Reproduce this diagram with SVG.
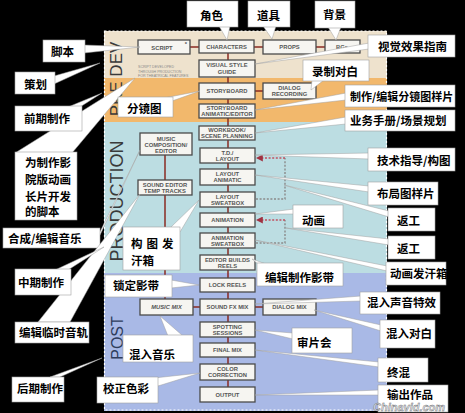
<svg xmlns="http://www.w3.org/2000/svg" width="465" height="413" viewBox="0 0 465 413">
<defs>
<style>
.cb{fill:#fff;stroke:#a0a0a0;stroke-width:0.6}
.ptr{fill:#fff;stroke:#a0a0a0;stroke-width:0.5}
.ct{font-family:"Noto Sans CJK SC","Noto Sans",sans-serif;font-weight:700;font-size:11.5px;fill:#000}
.bx{fill:#f6f5f1;stroke:#4a4a4a;stroke-width:1.3}
.bt{font-family:"Liberation Sans",Arial,sans-serif;font-weight:700;font-size:5.8px;fill:#555;text-anchor:middle}
.ln{stroke:#8a2a22;stroke-width:1.5;fill:none}
.dg{stroke:#8a8a8a;stroke-width:1.4;stroke-dasharray:2 1.6;fill:none}
.dr{stroke:#c05060;stroke-width:1.4;stroke-dasharray:2 1.6;fill:none}
.lab{font-family:"Liberation Sans",Arial,sans-serif;fill:#3a3a3a;text-anchor:middle}
</style>
<marker id="ah" viewBox="0 0 6 6" refX="5" refY="3" markerWidth="5" markerHeight="5" orient="auto">
<path d="M0,0 L6,3 L0,6 z" fill="#a03040"/>
</marker>
</defs>
<rect x="0" y="0" width="465" height="413" fill="#000"/>
<g id="panel">
<rect x="104" y="31" width="283" height="47" fill="#eee2cd"/>
<rect x="104" y="78" width="283" height="44" fill="#f2b86c"/>
<rect x="104" y="122" width="283" height="151" fill="#bcdde2"/>
<rect x="104" y="273" width="283" height="138" fill="#a9b9e6"/>
<rect x="104.5" y="31" width="282" height="379" fill="none" stroke="#fff" stroke-width="1.2" stroke-dasharray="2 2"/>
<text class="lab" font-size="17" transform="translate(122,79) rotate(-90)">PRE DEV</text>
<text class="lab" font-size="18" transform="translate(123,201) rotate(-90)">PRODUCTION</text>
<text class="lab" font-size="16" transform="translate(123,338) rotate(-90)" style="fill:#2f3d5c">POST</text>
<text font-family="Liberation Sans, Arial, sans-serif" font-size="3.6" fill="#888" x="138" y="68">SCRIPT DEVELOPED</text>
<text font-family="Liberation Sans, Arial, sans-serif" font-size="3.6" fill="#888" x="138" y="72.5">THROUGH PRODUCTION</text>
<text font-family="Liberation Sans, Arial, sans-serif" font-size="3.6" fill="#888" x="138" y="77">FOR THEATRICAL FEATURES</text>
</g>
<g id="connectors">
<path class="ln" d="M190,47 H325"/>
<path class="ln" d="M228,53 V387"/>
<path class="ln" d="M255,91 H263"/>
<path class="ln" d="M165,155 V299"/>
<path class="ln" d="M193,307 H263"/>
<path class="dg" d="M256,199 H285 V158"/>
<path class="dr" d="M285,158 H257" marker-end="url(#ah)"/>
<path class="dg" d="M256,243 H285 V220"/>
<path class="dr" d="M285,220 H257" marker-end="url(#ah)"/>
</g>
<g id="n-script"><rect class="bx" x="138" y="40" width="52" height="14"/><text class="bt" x="162" y="49.5">SCRIPT</text><text class="bt" x="186" y="46" font-size="5">*</text></g>
<g id="n-characters"><rect class="bx" x="199" y="40" width="55" height="13"/><text class="bt" x="226.5" y="48.8">CHARACTERS</text></g>
<g id="n-props"><rect class="bx" x="263" y="40" width="53" height="14"/><text class="bt" x="289.5" y="49.3">PROPS</text></g>
<g id="n-bgs"><rect class="bx" x="325" y="40" width="35" height="13"/><text class="bt" x="342" y="48.8">BGs</text></g>
<g id="n-visual"><rect class="bx" x="199" y="60" width="56" height="17"/><text class="bt" x="227" y="67">VISUAL STYLE</text><text class="bt" x="227" y="73.5">GUIDE</text></g>
<g id="n-storyboard"><rect class="bx" x="199" y="83" width="56" height="16"/><text class="bt" x="227" y="93">STORYBOARD</text></g>
<g id="n-dialogrec"><rect class="bx" x="263" y="83" width="53" height="16"/><text class="bt" x="289.5" y="89.7">DIALOG</text><text class="bt" x="289.5" y="96">RECORDING</text></g>
<g id="n-sbanimatic"><rect class="bx" x="199" y="104" width="56" height="14"/><text class="bt" x="227" y="110">STORYBOARD</text><text class="bt" x="227" y="116">ANIMATIC/EDITOR</text></g>
<g id="n-workbook"><rect class="bx" x="199" y="126" width="56" height="14"/><text class="bt" x="227" y="132">WORKBOOK/</text><text class="bt" x="227" y="138">SCENE PLANNING</text></g>
<g id="n-music"><rect class="bx" x="140" y="133" width="52" height="22"/><text class="bt" x="166" y="140.5">MUSIC</text><text class="bt" x="166" y="146.5">COMPOSITION/</text><text class="bt" x="166" y="152.5">EDITOR</text></g>
<g id="n-td"><rect class="bx" x="200" y="148" width="55" height="15"/><text class="bt" x="227.5" y="154.5">T.D./</text><text class="bt" x="227.5" y="160.5">LAYOUT</text></g>
<g id="n-layanim"><rect class="bx" x="200" y="169" width="55" height="16"/><text class="bt" x="227.5" y="176">LAYOUT</text><text class="bt" x="227.5" y="182.2">ANIMATIC</text></g>
<g id="n-soundedit"><rect class="bx" x="138" y="180" width="54" height="15"/><text class="bt" x="165" y="186.5">SOUND EDITOR</text><text class="bt" x="165" y="192.5">TEMP TRACKS</text></g>
<g id="n-laysweat"><rect class="bx" x="200" y="192" width="55" height="15"/><text class="bt" x="227.5" y="198.5">LAYOUT</text><text class="bt" x="227.5" y="204.5">SWEATBOX</text></g>
<g id="n-animation"><rect class="bx" x="200" y="213" width="55" height="14"/><text class="bt" x="227.5" y="222">ANIMATION</text></g>
<g id="n-animsweat"><rect class="bx" x="200" y="233" width="55" height="15"/><text class="bt" x="227.5" y="239.5">ANIMATION</text><text class="bt" x="227.5" y="245.5">SWEATBOX</text></g>
<g id="n-editor"><rect class="bx" x="200" y="255" width="55" height="15"/><text class="bt" x="227.5" y="261.5">EDITOR BUILDS</text><text class="bt" x="227.5" y="267.5">REELS</text></g>
<g id="n-lock"><rect class="bx" x="200" y="278" width="55" height="14"/><text class="bt" x="227.5" y="287">LOCK REELS</text></g>
<g id="n-musicmix"><rect class="bx" x="140" y="299" width="53" height="16"/><text class="bt" x="166.5" y="309" style="font-style:italic">MUSIC MIX</text></g>
<g id="n-sfxmix"><rect class="bx" x="200" y="299" width="55" height="16"/><text class="bt" x="227.5" y="309">SOUND FX MIX</text></g>
<g id="n-dialogmix"><rect class="bx" x="263" y="299" width="53" height="16"/><text class="bt" x="289.5" y="309">DIALOG MIX</text></g>
<g id="n-spotting"><rect class="bx" x="200" y="322" width="55" height="15"/><text class="bt" x="227.5" y="328.5">SPOTTING</text><text class="bt" x="227.5" y="334.5">SESSIONS</text></g>
<g id="n-finalmix"><rect class="bx" x="200" y="343" width="55" height="14"/><text class="bt" x="227.5" y="352">FINAL MIX</text></g>
<g id="n-color"><rect class="bx" x="200" y="364" width="55" height="16"/><text class="bt" x="227.5" y="371">COLOR</text><text class="bt" x="227.5" y="377.2">CORRECTION</text></g>
<g id="n-output"><rect class="bx" x="200" y="387" width="55" height="15"/><text class="bt" x="227.5" y="396.5">OUTPUT</text></g>

<g id="c-jiaoben"><polygon class="ptr" points="84,45 84,53 140,47"/><rect class="cb" x="43" y="40" width="42" height="22"/><text class="ct" x="51" y="56">脚本</text></g>
<g id="c-cehua"><polygon class="ptr" points="54,76 54,84 100,63"/><rect class="cb" x="15" y="72" width="40" height="22"/><text class="ct" x="24" y="88.5">策划</text></g>
<g id="c-longscript"><polygon class="ptr" points="15,153 72,153 135,78"/></g>
<g id="c-qianqi"><polygon class="ptr" points="68,107 80,107 102,93"/><rect class="cb" x="15" y="106" width="67" height="25"/><text class="ct" x="24" y="123">前期制作</text></g>
<g id="c-fenjing"><polygon class="ptr" points="164,98 172,101 200,91"/><rect class="cb" x="118" y="97" width="55" height="20"/><text class="ct" x="127" y="113">分镜图</text></g>
<g id="c-longscript-box"><rect class="cb" x="15" y="152" width="62" height="68"/><text class="ct" x="25" y="167">为制作影</text><text class="ct" x="25" y="184">院版动画</text><text class="ct" x="25" y="201">长片开发</text><text class="ct" x="25" y="216">的脚本</text></g>
<g id="c-hecheng"><polygon class="ptr" points="96,240 100,235 140,150"/><rect class="cb" x="3" y="228" width="97" height="20"/><text class="ct" x="8" y="243">合成/编辑音乐</text></g>
<g id="c-linshi"><polygon class="ptr" points="38,322 70,322 140,194"/></g>
<g id="c-zhongqi"><polygon class="ptr" points="55,270 68,270 104,247"/><rect class="cb" x="15" y="269" width="56" height="26"/><text class="ct" x="18" y="287">中期制作</text></g>
<g id="c-linshi-box"><rect class="cb" x="15" y="322" width="74" height="21"/><text class="ct" x="19" y="337">编辑临时音轨</text></g>
<g id="c-houqi"><polygon class="ptr" points="50,377 60,377 102,358"/><rect class="cb" x="12" y="377" width="52" height="25"/><text class="ct" x="17" y="393">后期制作</text></g>
<g id="c-jiaozheng"><polygon class="ptr" points="154,378 158,386 200,373"/><rect class="cb" x="97" y="377" width="61" height="26"/><text class="ct" x="103" y="393">校正色彩</text></g>
<g id="c-hunyinyue"><polygon class="ptr" points="168,336 183,336 160,316"/><rect class="cb" x="123" y="335" width="70" height="27"/><text class="ct" x="129" y="359">混入音乐</text></g>
<g id="c-suoding"><polygon class="ptr" points="171,280 171,288 199,285"/><rect class="cb" x="105" y="275" width="67" height="22"/><text class="ct" x="113" y="290">锁定影带</text></g>
<g id="c-goutu"><polygon class="ptr" points="170,228 180,232 199,200"/><rect class="cb" x="123" y="227" width="57" height="43"/><text class="ct" x="131" y="248" letter-spacing="4">构图发</text><text class="ct" x="131" y="265">汗箱</text></g>
<g id="c-juese"><polygon class="ptr" points="219,26 230,26 227,40"/><rect class="cb" x="187" y="1" width="51" height="26"/><text class="ct" x="200" y="20">角色</text></g>
<g id="c-daoju"><polygon class="ptr" points="263,26 276,26 272,39"/><rect class="cb" x="248" y="1" width="42" height="26"/><text class="ct" x="257" y="20">道具</text></g>
<g id="c-beijing"><polygon class="ptr" points="328,27 341,27 336,40"/><rect class="cb" x="315" y="1" width="40" height="27"/><text class="ct" x="323" y="19">背景</text></g>
<g id="c-shijue"><polygon class="ptr" points="369,43 369,49 255,64"/><rect class="cb" x="368" y="35" width="87" height="22"/><text class="ct" x="378" y="51">视觉效果指南</text></g>
<g id="c-luzhi"><polygon class="ptr" points="312,80 324,80 311,90"/><rect class="cb" x="303" y="60" width="66" height="21"/><text class="ct" x="312" y="76">录制对白</text></g>
<g id="c-zhizuo"><polygon class="ptr" points="346,93 346,100 255,110"/><rect class="cb" x="345" y="85" width="110" height="22"/><text class="ct" x="350" y="101" style="font-size:11px">制作/编辑分镜图样片</text></g>
<g id="c-yewu"><polygon class="ptr" points="346,117 346,124 255,133"/><rect class="cb" x="345" y="110" width="110" height="21"/><text class="ct" x="350" y="125">业务手册/场景规划</text></g>
<g id="c-jishu"><polygon class="ptr" points="369,153 369,159 255,155"/><rect class="cb" x="368" y="148" width="87" height="23"/><text class="ct" x="377" y="164.5">技术指导/构图</text></g>
<g id="c-buju"><polygon class="ptr" points="369,186 369,192 255,175"/><rect class="cb" x="368" y="182" width="70" height="23"/><text class="ct" x="377" y="197.5">布局图样片</text></g>
<g id="c-fangong1"><polygon class="ptr" points="389,211 389,217 284,185"/><rect class="cb" x="388" y="208" width="47" height="23"/><text class="ct" x="397" y="224.5">返工</text></g>
<g id="c-fangong2"><polygon class="ptr" points="389,239 389,245 286,228"/><rect class="cb" x="388" y="236" width="47" height="23"/><text class="ct" x="397" y="252.5">返工</text></g>
<g id="c-donghua"><polygon class="ptr" points="294,209 294,214 255,214"/><rect class="cb" x="293" y="205" width="50" height="23"/><text class="ct" x="302" y="224.5">动画</text></g>
<g id="c-donghuafa"><polygon class="ptr" points="387,266 387,271 255,240"/><rect class="cb" x="386" y="262" width="60" height="23"/><text class="ct" x="390" y="277.5">动画发汗箱</text></g>
<g id="c-bianji"><polygon class="ptr" points="258,264 266,264 252,259"/><rect class="cb" x="257" y="263" width="86" height="23"/><text class="ct" x="265" y="281.5">编辑制作影带</text></g>
<g id="c-shengyin"><polygon class="ptr" points="361,296 361,301 255,304"/><rect class="cb" x="360" y="292" width="80" height="22"/><text class="ct" x="367" y="307">混入声音特效</text></g>
<g id="c-duibai"><polygon class="ptr" points="381,325 381,331 314,310"/><rect class="cb" x="380" y="320" width="55" height="28"/><text class="ct" x="386" y="338">混入对白</text></g>
<g id="c-shenpian"><polygon class="ptr" points="293,333 293,339 255,330"/><rect class="cb" x="292" y="328" width="60" height="25"/><text class="ct" x="297" y="346.5">审片会</text></g>
<g id="c-zhonghun"><polygon class="ptr" points="379,362 379,367 255,350"/><rect class="cb" x="378" y="358" width="50" height="24"/><text class="ct" x="387" y="376.5">终混</text></g>
<g id="c-shuchu"><polygon class="ptr" points="379,390 379,395 255,395"/><rect class="cb" x="378" y="385" width="70" height="27"/><text class="ct" x="387" y="398.5">输出作品</text></g>
<text x="373" y="410.5" font-family="Liberation Sans, Arial, sans-serif" font-weight="700" font-style="italic" font-size="11" fill="#dfe3ea" stroke="#555" stroke-width="0.4" opacity="0.9">Chinavid.com</text>
</svg>
